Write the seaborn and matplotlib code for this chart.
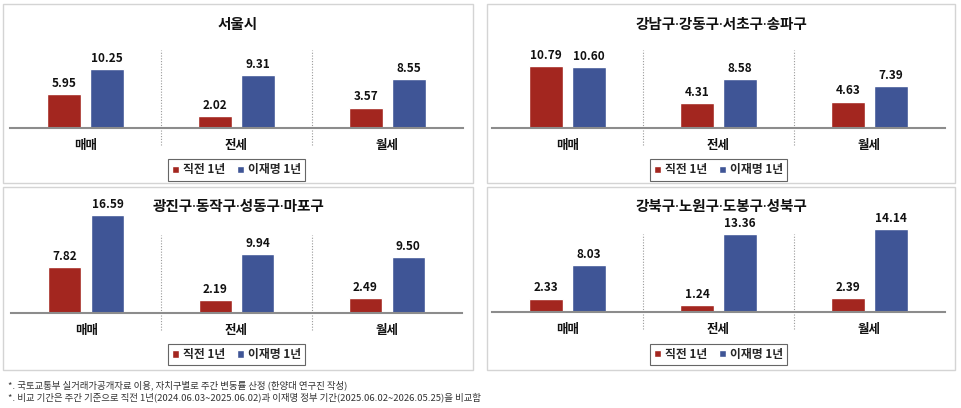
import pandas as pd
import matplotlib.pyplot as plt
import seaborn as sns
from matplotlib.patches import Rectangle

regions = ['서울시', '강남구·강동구·서초구·송파구', '광진구·동작구·성동구·마포구', '강북구·노원구·도봉구·성북구']
categories = ['매매', '전세', '월세']
periods = ['직전 1년', '이재명 1년']
before = [[5.95, 2.02, 3.57], [10.79, 4.31, 4.63], [7.82, 2.19, 2.49], [2.33, 1.24, 2.39]]
after = [[10.25, 9.31, 8.55], [10.60, 8.58, 7.39], [16.59, 9.94, 9.50], [8.03, 13.36, 14.14]]
notes = ['*. 국토교통부 실거래가공개자료 이용, 자치구별로 주간 변동률 산정 (한양대 연구진 작성)',
         '*. 비교 기간은 주간 기준으로 직전 1년(2024.06.03~2025.06.02)과 이재명 정부 기간(2025.06.02~2026.05.25)을 비교함']

sns.set_style('white')
plt.rcParams['font.family'] = ['Noto Sans CJK KR', 'DejaVu Sans']

W, H = 962, 408
fig = plt.figure(figsize=(W / 100, H / 100), dpi=100)
red, blue = '#A3261F', '#3F5596'

# pixel layout: panel box (l, t, r, b), axes x0, x1, baseline, px per unit, title y
layout = [
    ((3, 4, 473, 183), 10, 463, 128, 5.71, 25),
    ((487, 4, 955, 183), 492, 945, 128, 5.72, 25),
    ((3, 187, 473, 370), 11, 462, 312.7, 5.88, 208),
    ((487, 187, 955, 370), 492, 945, 312.3, 5.87, 207),
]

for i, region in enumerate(regions):
    (pl, pt, pr, pb), x0, x1, base, scale, ty = layout[i]
    fig.add_artist(Rectangle((pl / W, 1 - pb / H), (pr - pl) / W, (pb - pt) / H,
                             transform=fig.transFigure, fill=False, edgecolor='#D4D4D4', lw=1))
    hpx = 110
    ax = fig.add_axes([x0 / W, 1 - base / H, (x1 - x0) / W, hpx / H])
    df = pd.DataFrame({
        'category': categories * 2,
        'value': before[i] + after[i],
        'period': [periods[0]] * 3 + [periods[1]] * 3,
    })
    sns.barplot(data=df, x='category', y='value', hue='period', palette=[red, blue],
                width=0.57, gap=0.23, saturation=1, ax=ax)
    ax.set_xlim(-0.5, 2.5)
    ax.set_ylim(0, hpx / scale)
    for c in ax.containers:
        ax.bar_label(c, fmt='%.2f', padding=3, fontsize=8.5, fontweight='bold', color='#111')
    for s in ['top', 'left', 'right']:
        ax.spines[s].set_visible(False)
    ax.spines['bottom'].set_color('#8C8C8C')
    ax.spines['bottom'].set_linewidth(1.5)
    ax.set_yticks([])
    ax.set_xlabel('')
    ax.set_ylabel('')
    ax.set_xticks(range(3), categories, fontsize=9, fontweight='bold', color='#111')
    ax.tick_params(axis='x', length=0, pad=8)
    ax.vlines([0.5, 1.5], -17 / hpx, 78 / hpx, transform=ax.get_xaxis_transform(),
              colors='#9A9A9A', linestyles=(0, (1, 1.5)), lw=0.8, clip_on=False)
    handles, labels = ax.get_legend_handles_labels()
    ax.legend(handles, labels, loc='center', bbox_to_anchor=(0.5, -42 / hpx), ncol=2,
              frameon=True, fancybox=False, edgecolor='#666666', framealpha=1,
              handlelength=0.6, handleheight=0.6, handletextpad=0.35, columnspacing=1.0,
              borderpad=0.35, prop={'size': 8.5, 'weight': 'bold'})
    ax.get_legend().get_frame().set_linewidth(0.8)
    fig.text(((pl + pr) / 2) / W, 1 - ty / H, region, ha='center', va='center',
             fontsize=10.5, fontweight='bold', color='#111',
             family=['Noto Sans', 'Noto Sans CJK KR'])

for j, note in enumerate(notes):
    fig.text(8 / W, 1 - (385 + 12 * j) / H, note, ha='left', va='center', fontsize=6.8, color='#333')

fig.savefig('out.png', dpi=100)
